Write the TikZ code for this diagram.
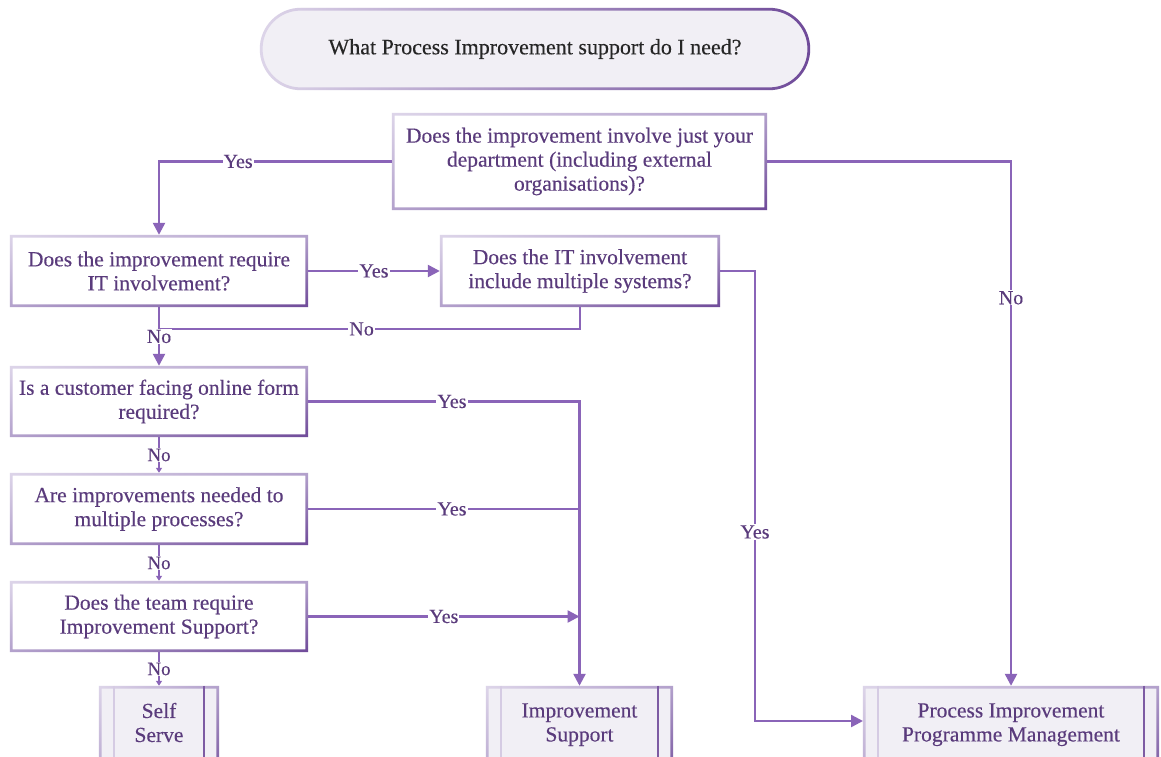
\documentclass[tikz,border=0pt]{standalone}
\usepackage{fontspec}
\setmainfont{Liberation Serif}[FakeBold=0.3]
\usetikzlibrary{arrows.meta,calc,shadings}

\definecolor{ink}{HTML}{5A3B7C}
\definecolor{wire}{HTML}{8A64B8}
\definecolor{rimlight}{HTML}{DDD5E9}
\definecolor{rimmid}{HTML}{B3A1CC}
\definecolor{rimdark}{HTML}{6F4A99}
\definecolor{pale}{HTML}{F1EFF5}

\tikzset{
  question/.style={fill=white, text=ink, align=center, inner sep=0pt,
    font=\fontsize{21.5}{24}\selectfont},
  terminal/.style={fill=pale, text=black!85, align=center, inner sep=0pt,
    rounded corners=41pt, minimum width=550pt, minimum height=82pt,
    font=\fontsize{22}{24}\selectfont},
  outcome/.style={fill=pale, text=ink, align=center, inner sep=0pt,
    minimum height=104pt, font=\fontsize{21.5}{24}\selectfont},
  wireline/.style={draw=wire, line width=2.4pt},
  arrowline/.style={wireline, -{Triangle[length=12pt,width=12pt]}},
  smallarrow/.style={wireline, line width=1.6pt, -{Triangle[length=5pt,width=6pt]}},
  lbl/.style={fill=white, text=ink, inner sep=1pt, font=\fontsize{20}{21}\selectfont},
  smalllbl/.style={fill=white, text=ink, inner sep=1pt, font=\fontsize{19}{20}\selectfont},
  rim/.style={even odd rule, upper left=rimlight, upper right=rimmid,
    lower left=rimmid, lower right=rimdark},
}

% shaded frame round a rectangular node
\newcommand\rimbox[1]{%
  \shade[rim] (#1.north west) rectangle (#1.south east)
    ([shift={(2.8,2.8)}]#1.north west) rectangle ([shift={(-2.8,-2.8)}]#1.south east);}

% predefined-process side bars
\newcommand\sidebars[1]{%
  \draw[rimlight!80!rimmid, line width=2.4pt] ([xshift=15]#1.north west) -- ([xshift=15]#1.south west);
  \draw[rimdark!80!rimmid, line width=2.4pt] ([xshift=-15]#1.north east) -- ([xshift=-15]#1.south east);}

\begin{document}
\begin{tikzpicture}[x=1pt,y=-1pt]
\clip (0,0) rectangle (1161,757);
\fill[white] (0,0) rectangle (1161,757);

% start terminal
\node[terminal] (start) at (535,49) {What Process Improvement support do I need?};
\shade[even odd rule, left color=rimlight, right color=rimdark]
  [rounded corners=41pt] (start.north west) rectangle (start.south east)
  [rounded corners=38pt] ([shift={(2.8,2.8)}]start.north west) rectangle ([shift={(-2.8,-2.8)}]start.south east);

% questions
\node[question, minimum width=375pt, minimum height=97pt] (q1) at (579.5,161.5)
  {Does the improvement involve just your\\department (including external\\organisations)?};
\node[question, minimum width=298pt, minimum height=72pt] (q2) at (159,271)
  {Does the improvement require\\IT involvement?};
\node[question, minimum width=280pt, minimum height=72pt] (q3) at (580,271)
  {Does the IT involvement\\include multiple systems?};
\node[question, minimum width=298pt, minimum height=71pt] (q4) at (159,401.5)
  {Is a customer facing online form\\required?};
\node[question, minimum width=298pt, minimum height=72pt] (q5) at (159,509)
  {Are improvements needed to\\multiple processes?};
\node[question, minimum width=298pt, minimum height=71pt] (q6) at (159,616.5)
  {Does the team require\\Improvement Support?};
\foreach \n in {q1,q2,q3,q4,q5,q6} {\rimbox{\n}}

% outcomes (they run past the lower edge of the page; an empty third line keeps the text high)
\node[outcome, minimum width=120pt] (self) at (159,738) {Self\\Serve\\\strut};
\node[outcome, minimum width=187pt] (imp) at (579.5,738) {Improvement\\Support\\\strut};
\node[outcome, minimum width=296pt] (pipm) at (1011,738) {Process Improvement\\Programme Management\\\strut};
\foreach \n in {self,imp,pipm} {\rimbox{\n}\sidebars{\n}}

% connectors
\coordinate (join) at (160,329);
\coordinate (bend) at (755,532);
\coordinate (pipmin) at (863,721);

\draw[arrowline] (q1.west) -| node[lbl, pos=0.33] {Yes} (q2.north);
\draw[arrowline] (q1.east) -| node[lbl, pos=0.63] {No} (pipm.north);
\draw[arrowline] (q2.east) -- node[lbl] {Yes} (q3.west);
\draw[wireline] (q3.south) |- node[lbl, pos=0.76] {No} (join);
\draw[arrowline] (q2.south) -- node[lbl] {No} (q4.north);
\draw[arrowline] (q3.east) -| (bend) node[lbl] {Yes} |- (pipmin);

\draw[arrowline] (q4.east) -| node[lbl, pos=0.265] {Yes} (imp.north);
\draw[wireline] (q5.east) -- node[lbl, pos=0.53] {Yes} (q5.east -| imp.north);
\draw[arrowline] (q6.east) -- node[lbl] {Yes} (q6.east -| imp.north);

\draw[smallarrow] (q4.south) -- node[smalllbl] {No} (q5.north);
\draw[smallarrow] (q5.south) -- node[smalllbl] {No} (q6.north);
\draw[smallarrow] (q6.south) -- node[smalllbl] {No} (self.north);
\end{tikzpicture}
\end{document}
